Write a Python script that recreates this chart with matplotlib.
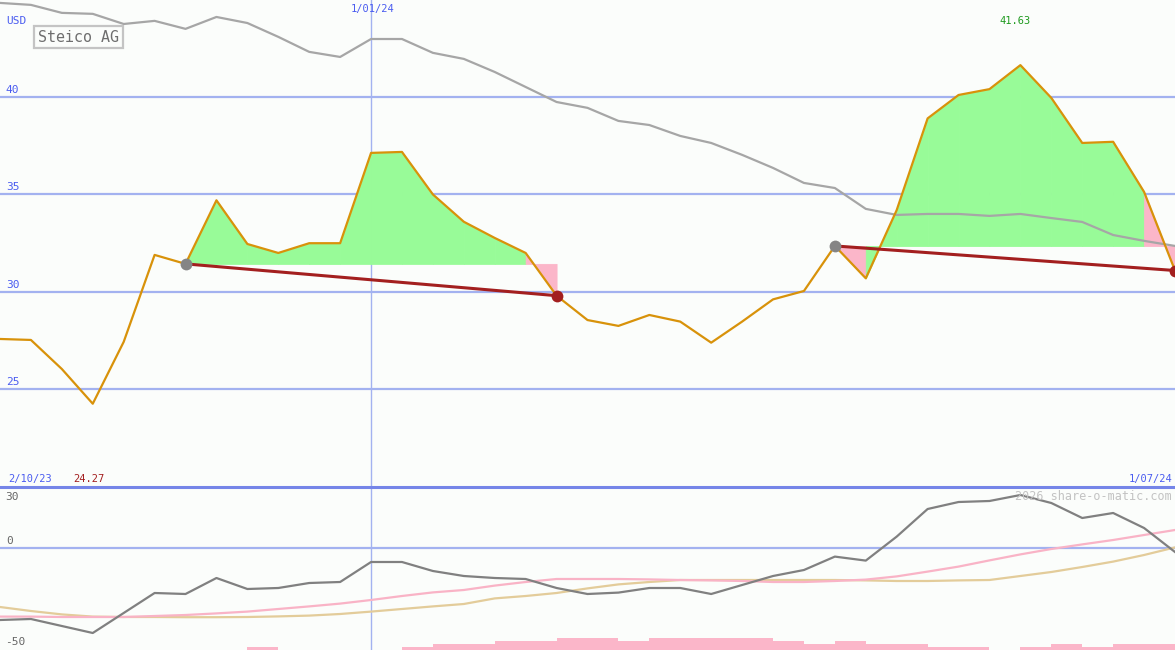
import matplotlib
matplotlib.use("Agg")
import matplotlib.pyplot as plt
import matplotlib.transforms as mtransforms
import numpy as np

# ---------------- data ----------------
start_label = "2/10/23"
end_label = "1/07/24"
mid_label = "1/01/24"
mid_index = 12
title = "Steico AG"
currency = "USD"
max_label = "41.63"
min_label = "24.27"

price = [27.59, 27.54, 26.05, 24.27, 27.44, 31.9, 31.44, 34.7, 32.46, 32.0,
         32.5, 32.5, 37.13, 37.18, 35.0, 33.6, 32.77, 32.0, 29.81, 28.56,
         28.26, 28.82, 28.48, 27.4, 28.48, 29.62, 30.05, 32.36, 30.7, 34.2,
         38.9, 40.1, 40.4, 41.63, 39.95, 37.64, 37.7, 35.13, 31.1]

ma_long = [44.82, 44.72, 44.31, 44.26, 43.74, 43.90, 43.49, 44.10, 43.79, 43.08,
           42.31, 42.05, 42.97, 42.97, 42.26, 41.95, 41.28, 40.51, 39.74, 39.44,
           38.77, 38.56, 38.0, 37.64, 37.03, 36.36, 35.59, 35.33, 34.26, 33.95,
           34.0, 34.0, 33.9, 34.0, 33.79, 33.59, 32.92, 32.62, 32.36]

seg_start = [6, 27]
seg_end = [18, 38]

price_ticks = [25, 30, 35, 40]

momentum = [-36, -35.5, -39, -42.5, -32.5, -22.5, -23, -15, -20.5, -20,
            -17.5, -17, -7, -7, -11.5, -14, -15, -15.5, -20, -23,
            -22.3, -20, -20, -23, -18.5, -14, -11, -4.3, -6.3, 5.7,
            19.5, 23, 23.5, 26.5, 22.5, 15, 17.5, 10, -2]

signal_pink = [-34.3, -34.3, -34.5, -34.5, -34.5, -34, -33.5, -32.7, -31.8, -30.5,
               -29.2, -27.8, -26, -24, -22.2, -21, -18.8, -17, -15.5, -15.5,
               -15.5, -15.7, -16, -16.2, -16.5, -17, -17, -16.5, -15.8, -14.2,
               -11.8, -9.3, -6.2, -3.2, -0.5, 1.8, 4, 6.5, 9]

signal_tan = [-29.5, -31.5, -33.2, -34.3, -34.5, -34.5, -34.6, -34.6, -34.5, -34.2,
              -33.8, -33, -31.8, -30.5, -29.2, -28, -25.2, -24, -22.5, -20.2,
              -18.2, -17, -16, -16, -16, -16, -16, -16, -16.2, -16.5,
              -16.5, -16.2, -16, -14, -12, -9.5, -6.8, -3.5, 0.3]

volume_level = [0, 0, 0, 0, 0, 0, 0, 0, 1, 0,
                0, 0, 0, 1, 2, 2, 3, 3, 4, 4,
                3, 4, 4, 4, 4, 3, 2, 3, 2, 2,
                1, 1, 0, 1, 2, 1, 2, 2]

osc_ticks = [30, 0, -50]

# ---------------- styling ----------------
W, H = 1175, 650
BG = "#fbfdfb"
GRID = "#a3b2f0"
LABEL_BLUE = "#4a5cf0"
ORANGE = "#d8920a"
GREEN = "#98fb98"
PINK = "#fbb6c9"
DARKRED = "#a31f1f"
GRAYMA = "#a6a6a6"
MONO = ["DejaVu Sans Mono"]

fig = plt.figure(figsize=(W / 100, H / 100), dpi=100, facecolor=BG)
split = 487 / H
ax = fig.add_axes([0, 1 - split, 1, split], facecolor=BG)
ax2 = fig.add_axes([0, 0, 1, 1 - split], facecolor=BG)

x = np.arange(len(price))
n = len(price) - 1

for a in (ax, ax2):
    a.set_xlim(0, n)
    for s in a.spines.values():
        s.set_visible(False)
    a.set_xticks([])
    a.set_yticks([])

ax.set_ylim(20, 44.97)
ax2.set_ylim(-51, 30.5)

# grid
for v in price_ticks:
    ax.axhline(v, color=GRID, lw=1.6, zorder=1)
    ax.annotate(str(v), xy=(0.005, v),
                xycoords=mtransforms.blended_transform_factory(ax.transAxes, ax.transData),
                xytext=(0, 1.5), textcoords="offset points", va="bottom", ha="left",
                color=LABEL_BLUE, fontsize=8, family=MONO)
ax.axvline(mid_index, color=GRID, lw=1.0, zorder=1)
ax2.axvline(mid_index, color=GRID, lw=1.0, zorder=1)

# fills per segment
price_arr = np.array(price)
for s, e in zip(seg_start, seg_end):
    base = price[s]
    for i in range(s, e):
        col = GREEN if price[i + 1] >= base else PINK
        ax.fill_between(x[i:i + 2], price_arr[i:i + 2], base, facecolor=col,
                        edgecolor=col, lw=0.6, zorder=2, interpolate=True)

# moving average
ax.plot(x, ma_long, color=GRAYMA, lw=1.6, zorder=3)
# price
ax.plot(x, price, color=ORANGE, lw=1.6, zorder=4)

# trend lines and dots
for s, e in zip(seg_start, seg_end):
    ax.plot([s, e], [price[s], price[e]], color=DARKRED, lw=2.2, zorder=5)
    ax.plot([s], [price[s]], "o", color="#858585", ms=8.5, zorder=6, mec="none")
    ax.plot([e], [price[e]], "o", color=DARKRED, ms=8.5, zorder=6, mec="none")

# texts in main panel
def ftext(px, py, s, **kw):
    fig.text(px / W, 1 - py / H, s, family=MONO, **kw)

ftext(6, 21, currency, color=LABEL_BLUE, fontsize=8, va="center", ha="left")
ftext(373, 9, mid_label, color=LABEL_BLUE, fontsize=7.5, va="center", ha="center")
ftext(1015, 21, max_label, color="#1e9a1e", fontsize=7.5, va="center", ha="center")
ftext(8, 479, start_label, color=LABEL_BLUE, fontsize=7.5, va="center", ha="left")
ftext(73, 479, min_label, color="#a31f1f", fontsize=7.5, va="center", ha="left")
ftext(1172, 479, end_label, color=LABEL_BLUE, fontsize=7.5, va="center", ha="right")
fig.text(38 / W, 1 - 37 / H, title, family=MONO, fontsize=10.8, color="#6e6e6e",
         va="center", ha="left",
         bbox=dict(boxstyle="square,pad=0.25", fc=BG, ec="#c4c4c4", lw=1.6))

# separator
fig.add_artist(plt.Line2D([0, 1], [1 - split, 1 - split], color="#7585e8", lw=2.2))

# ---------------- bottom panel ----------------
ax2.axhline(0, color=GRID, lw=1.6, zorder=1)
vol_h = np.array(volume_level) * 1.55
ax2.bar(np.arange(len(volume_level)), vol_h, width=1.0, align="edge", bottom=-51,
        color=PINK, lw=0, zorder=1)
ax2.plot(x, signal_tan, color="#e3cc9a", lw=1.6, zorder=2)
ax2.plot(x, signal_pink, color="#f9b3c6", lw=1.6, zorder=3)
ax2.plot(x, momentum, color="#808080", lw=1.6, zorder=4)

blend2 = mtransforms.blended_transform_factory(ax2.transAxes, ax2.transData)
ftext(5, 497, str(osc_ticks[0]), color="#666666", fontsize=8, va="center", ha="left")
ax2.annotate(str(osc_ticks[1]), xy=(0.005, 0), xycoords=blend2, xytext=(0, 1.5),
             textcoords="offset points", va="bottom", ha="left", color="#666666",
             fontsize=8, family=MONO)
ftext(5, 642, str(osc_ticks[2]), color="#666666", fontsize=8, va="center", ha="left")
ftext(1172, 497, "2026 share-o-matic.com", color="#c3c3c3", fontsize=8.5,
      va="center", ha="right")

fig.savefig("out.png", dpi=100, facecolor=BG)
